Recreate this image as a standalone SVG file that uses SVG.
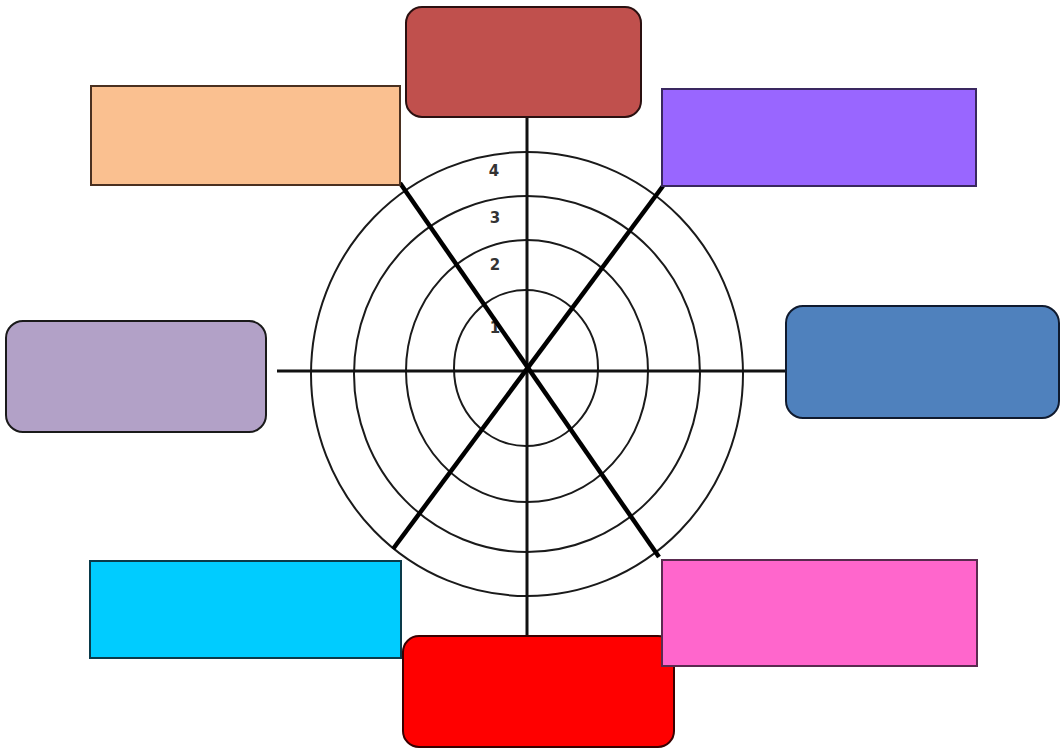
<svg xmlns="http://www.w3.org/2000/svg" width="1061" height="750" viewBox="0 0 1061 750">
<style>
.ring{fill:none;stroke:#1a1a1a;stroke-width:2}
.axis{stroke:#111;stroke-width:3;stroke-linecap:butt}
.diag{stroke:#000;stroke-width:4.5;stroke-linecap:butt}
.box{stroke-width:2}
.num{font-family:"DejaVu Sans","Liberation Sans",sans-serif;font-size:15px;font-weight:bold;fill:#333;text-anchor:middle}
</style>
<rect width="1061" height="750" fill="#fff"/>
<g id="rings">
<ellipse class="ring" cx="527" cy="374" rx="216" ry="222"/>
<ellipse class="ring" cx="527" cy="374" rx="173" ry="178"/>
<ellipse class="ring" cx="527" cy="371" rx="121" ry="131"/>
<ellipse class="ring" cx="526" cy="368" rx="72" ry="78"/>
</g>
<g id="scale">
<text class="num" x="494" y="176">4</text>
<text class="num" x="495" y="223">3</text>
<text class="num" x="495" y="270">2</text>
<text class="num" x="495" y="333">1</text>
</g>
<g id="connectors">
<line class="axis" x1="527" y1="117" x2="527" y2="637"/>
<line class="axis" x1="277" y1="371" x2="786" y2="371"/>
<line class="diag" x1="400" y1="183" x2="659" y2="557"/>
<line class="diag" x1="663" y1="186" x2="393" y2="549"/>
</g>
<g id="node-top"><rect class="box" x="406" y="7" width="235" height="110" rx="16" fill="#C0504D" stroke="#2a1010"/></g>
<g id="node-top-left"><rect class="box" x="91" y="86" width="309" height="99" fill="#FAC090" stroke="#4a3020"/></g>
<g id="node-top-right"><rect class="box" x="662" y="89" width="314" height="97" fill="#9966FF" stroke="#3a2860"/></g>
<g id="node-left"><rect class="box" x="6" y="321" width="260" height="111" rx="17" fill="#B2A1C7" stroke="#1a1a1a"/></g>
<g id="node-right"><rect class="box" x="786" y="306" width="273" height="112" rx="17" fill="#4F81BD" stroke="#0f1a2e"/></g>
<g id="node-bottom-left"><rect class="box" x="90" y="561" width="311" height="97" fill="#00CCFF" stroke="#0a3a4a"/></g>
<g id="node-bottom"><rect class="box" x="403" y="636" width="271" height="111" rx="16" fill="#FF0000" stroke="#3a0000"/></g>
<g id="node-bottom-right"><rect class="box" x="662" y="560" width="315" height="106" fill="#FF66CC" stroke="#5a2a50"/></g>
</svg>
